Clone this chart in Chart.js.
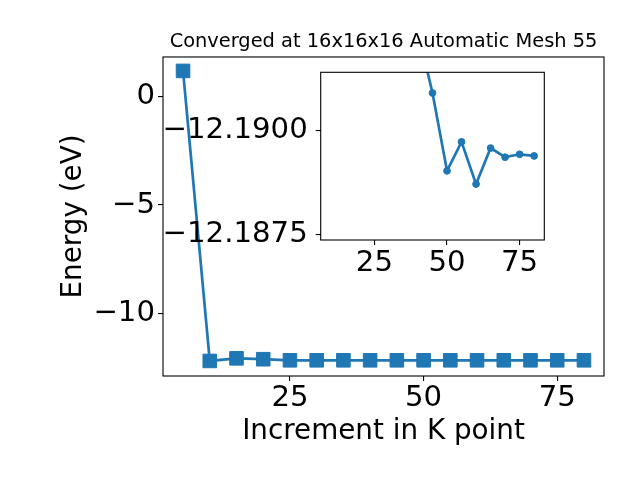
<!DOCTYPE html>
<html>
<head>
<meta charset="utf-8">
<script src="https://cdn.jsdelivr.net/npm/chart.js@4/dist/chart.umd.min.js"></script>
<style>
  html, body { margin: 0; padding: 0; background: #fff; }
  #wrap { position: relative; width: 640px; height: 480px; }
  canvas { position: absolute; left: 0; top: 0; }
</style>
</head>
<body>
<div id="wrap">
  <canvas id="mainChart" width="640" height="480"></canvas>
  <canvas id="insetChart" width="640" height="480"></canvas>
</div>
<script>
// k-point increments and total energies (eV)
const kPoints = [5, 10, 15, 20, 25, 30, 35, 40, 45, 50, 55, 60, 65, 70, 75, 80];
const energy = [1.19, -12.20, -12.08, -12.12, -12.17, -12.17, -12.17, -12.17,
                -12.17, -12.17, -12.17, -12.17, -12.17, -12.17, -12.17, -12.17];
const xTicks = [25, 50, 75];
const yTicks = [0, -5, -10];

// zoomed inset
const insetK = [40, 45, 50, 55, 60, 65, 70, 75, 80];
const insetEnergy = [-12.19239, -12.19091, -12.18903, -12.18973, -12.18871,
                     -12.18958, -12.18936, -12.18943, -12.18939];
const insetXTicks = [25, 50, 75];
const insetYTicks = [-12.1900, -12.1875];

const blue = '#1f77b4';
const font = { family: 'DejaVu Sans', size: 27.8 };
const tickFont = { family: 'DejaVu Sans', size: 29.2 };
const minus = s => String(s).replace('-', '\u2212');

Chart.defaults.color = '#000';
Chart.defaults.font.family = 'DejaVu Sans';

// black box around plot area like matplotlib spines
const frame = {
    id: 'frame',
    afterDatasetsDraw(chart) {
        const { ctx, chartArea: a } = chart;
        ctx.save();
        ctx.strokeStyle = '#000';
        ctx.lineWidth = 1.1;
        ctx.strokeRect(a.left, a.top, a.right - a.left, a.bottom - a.top);
        ctx.restore();
    }
};

const tickGrid = { drawOnChartArea: false, drawTicks: true, tickLength: 5, color: '#000', lineWidth: 1.1 };

new Chart(document.getElementById('mainChart'), {
    type: 'line',
    data: {
        datasets: [{
            data: kPoints.map((k, i) => ({ x: k, y: energy[i] })),
            borderColor: blue,
            backgroundColor: blue,
            borderWidth: 2.7,
            pointStyle: 'rect',
            pointRadius: 9.6,
            pointBorderWidth: 1,
            pointBorderColor: blue
        }]
    },
    options: {
        responsive: false,
        animation: false,
        devicePixelRatio: 1,
        layout: { padding: { left: 0, right: 36, top: 0, bottom: 0 } },
        plugins: {
            legend: { display: false },
            tooltip: { enabled: false },
            title: {
                display: true,
                text: 'Converged at 16x16x16 Automatic Mesh 55',
                fullSize: false,
                font: { family: 'DejaVu Sans', size: 19.4, weight: 'normal' },
                color: '#000',
                padding: { top: 30, bottom: 3.7 }
            }
        },
        scales: {
            x: {
                type: 'linear',
                min: 1.25,
                max: 83.75,
                afterBuildTicks: s => { s.ticks = xTicks.map(v => ({ value: v })); },
                afterFit: s => { s.height = 104; },
                grid: tickGrid,
                border: { display: false },
                ticks: { font: tickFont, color: '#000', padding: 0, maxRotation: 0 },
                title: {
                    display: true,
                    text: 'Increment in K point',
                    font: font,
                    color: '#000',
                    padding: { top: 0, bottom: 32 }
                }
            },
            y: {
                type: 'linear',
                min: -12.895,
                max: 1.833,
                afterBuildTicks: s => { s.ticks = yTicks.map(v => ({ value: v })); },
                afterFit: s => { s.width = 163; },
                grid: tickGrid,
                border: { display: false },
                ticks: { font: tickFont, color: '#000', padding: 3, callback: v => minus(v) },
                title: {
                    display: true,
                    text: 'Energy (eV)',
                    font: font,
                    color: '#000',
                    padding: { top: 57, bottom: 0 }
                }
            }
        }
    },
    plugins: [frame]
});

new Chart(document.getElementById('insetChart'), {
    type: 'line',
    data: {
        datasets: [{
            data: insetK.map((k, i) => ({ x: k, y: insetEnergy[i] })),
            borderColor: blue,
            backgroundColor: blue,
            borderWidth: 2.7,
            pointStyle: 'circle',
            pointRadius: 3.4,
            pointBorderWidth: 1,
            pointBorderColor: blue,
            clip: 0
        }]
    },
    options: {
        responsive: false,
        animation: false,
        devicePixelRatio: 1,
        layout: { padding: { left: 150, right: 95.7, top: 72.3, bottom: 200 } },
        plugins: {
            legend: { display: false },
            tooltip: { enabled: false },
            title: { display: false }
        },
        scales: {
            x: {
                type: 'linear',
                min: 6.5,
                max: 83.5,
                afterBuildTicks: s => { s.ticks = insetXTicks.map(v => ({ value: v })); },
                afterFit: s => { s.height = 40; },
                grid: tickGrid,
                border: { display: false },
                ticks: { font: tickFont, color: '#000', padding: 1, maxRotation: 0 }
            },
            y: {
                type: 'linear',
                reverse: true,
                min: -12.19141,
                max: -12.18736,
                afterBuildTicks: s => { s.ticks = insetYTicks.map(v => ({ value: v })); },
                afterFit: s => { s.width = 170.7; },
                grid: tickGrid,
                border: { display: false },
                ticks: { font: tickFont, color: '#000', padding: 8, callback: v => minus(v.toFixed(4)) }
            }
        }
    },
    plugins: [frame]
});
</script>
</body>
</html>
